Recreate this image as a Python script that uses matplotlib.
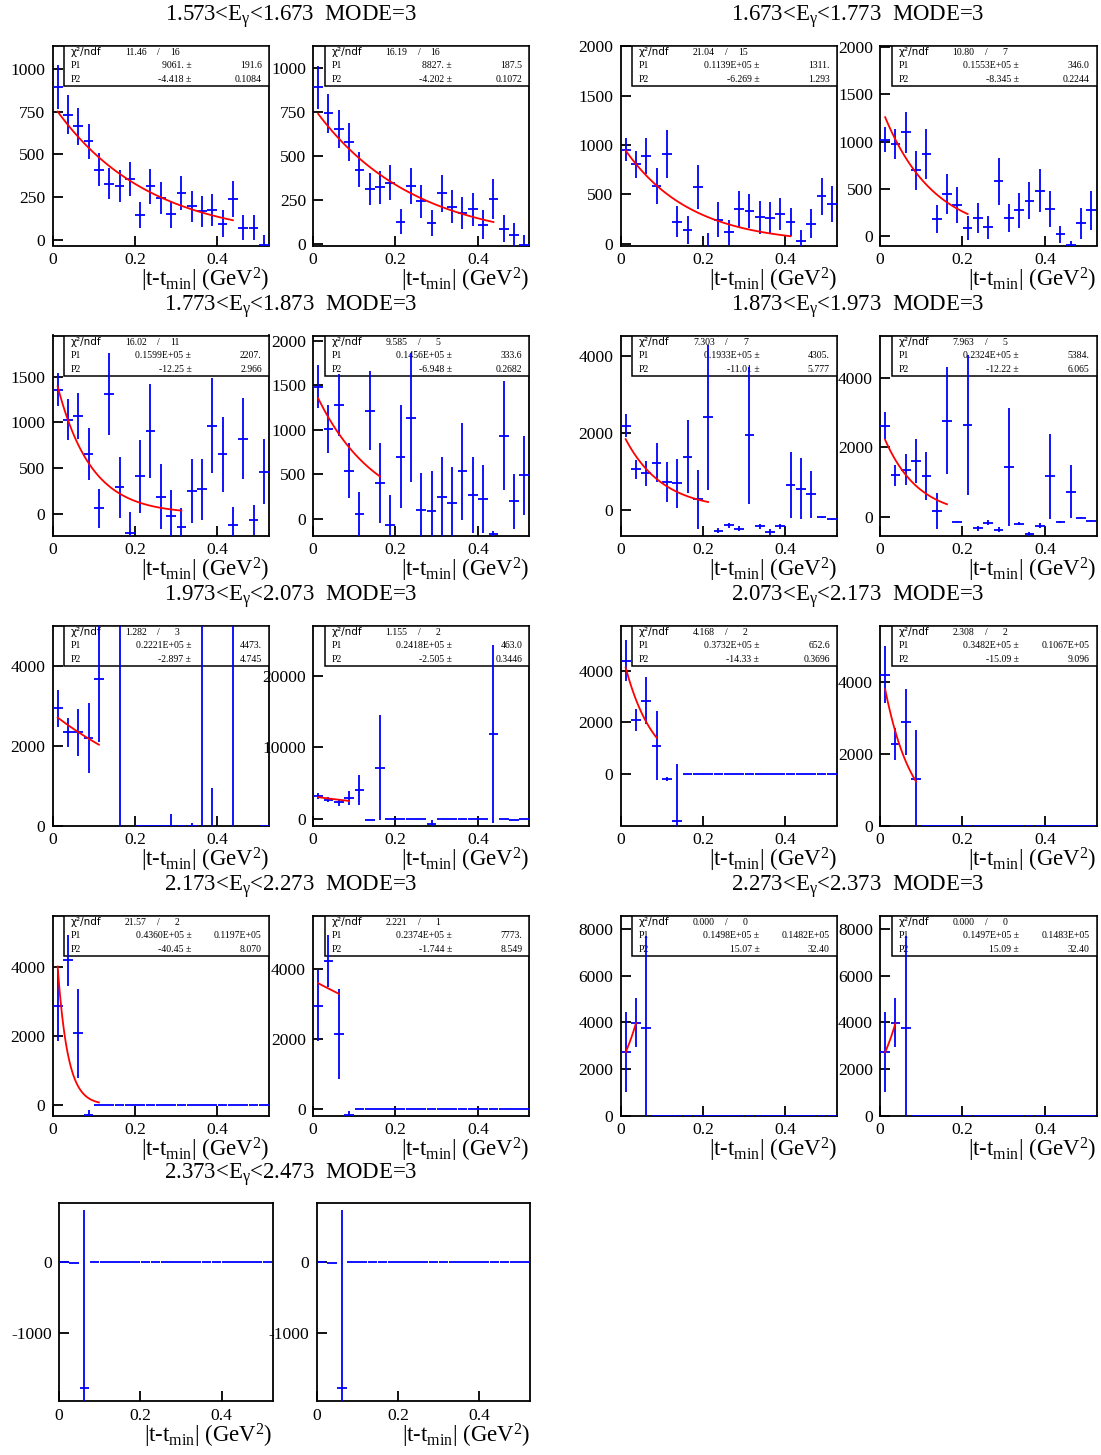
import numpy as np
import matplotlib.pyplot as plt
from matplotlib.patches import Rectangle
from matplotlib.ticker import MultipleLocator

plt.rcParams['font.family'] = ['Liberation Serif', 'DejaVu Serif']
plt.rcParams['mathtext.fontset'] = 'custom'
plt.rcParams['mathtext.rm'] = 'Liberation Serif'
plt.rcParams['mathtext.it'] = 'Liberation Serif:italic'
plt.rcParams['axes.unicode_minus'] = False

nan = np.nan

# 21 bins in |t-tmin| of 0.025 GeV^2
t_edges = np.linspace(0.0, 0.525, 22)
t_mid = 0.5 * (t_edges[:-1] + t_edges[1:])

e_low = ['1.573', '1.673', '1.773', '1.873', '1.973', '2.073', '2.173', '2.273', '2.373']
e_high = ['1.673', '1.773', '1.873', '1.973', '2.073', '2.173', '2.273', '2.373', '2.473']

# yields per bin (a = left pad, b = right pad) and their errors
y_1a = [893, 731, 663, 575, 411, 329, 314, 355, 146, 312, 244, 150, 273, 195, 168, 175, 94, 240, 72, 72, -29]
e_1a = [128, 113, 108, 105, 95, 92, 92, 100, 78, 100, 92, 80, 100, 93, 90, 92, 80, 105, 73, 75, 55]
y_1b = [890, 744, 653, 579, 421, 313, 321, 349, 127, 330, 241, 118, 288, 212, 175, 197, 108, 256, 87, 49, -6]
e_1b = [123, 111, 110, 108, 100, 90, 93, 100, 71, 102, 93, 74, 104, 95, 93, 94, 82, 114, 78, 70, 55]

y_2a = [953, 807, 892, 588, 912, 226, 142, 574, -50, 243, 115, 351, 334, 267, 260, 301, 220, 24, 203, 480, 405]
e_2a = [118, 138, 180, 185, 240, 157, 140, 220, 160, 177, 130, 180, 172, 165, 162, 160, 145, 112, 145, 190, 185]
y_2b = [1018, 972, 1095, 695, 867, 182, 449, 333, 88, 193, 95, 579, 193, 274, 375, 481, 288, 25, -88, 140, 274]
e_2b = [130, 155, 215, 210, 263, 150, 212, 193, 123, 158, 123, 250, 151, 181, 196, 225, 188, 90, 45, 162, 207]

y_3a = [1354, 1027, 1070, 652, 62, 1307, 288, -211, 408, 907, 189, -29, -149, 251, 269, 961, 652, -120, 819, -66, 462]
e_3a = [180, 225, 255, 280, 212, 445, 336, 230, 397, 513, 350, 290, 210, 350, 333, 519, 410, 193, 442, 164, 355]
y_3b = [1485, 1007, 1280, 541, 60, 1213, 403, -63, 701, 1138, 104, 93, 246, 179, 534, 272, 224, -168, 936, 198, 489]
e_3b = [237, 270, 345, 308, 245, 442, 444, 330, 578, 718, 411, 441, 448, 403, 541, 429, 384, 30, 610, 313, 440]

y_4a = [2190, 1056, 952, 1229, 727, 693, 1385, 277, 2407, -545, -407, -493, 1931, -433, -580, -433, 649, 545, 407, -190, -242]
e_4a = [295, 250, 325, 495, 528, 637, 940, 766, 1880, 70, 70, 70, 1770, 70, 70, 70, 850, 790, 610, 15, 15]
y_4b = [2622, 1186, 1349, 1610, 1176, 164, 2776, -145, 2651, -337, -174, -386, 1427, -212, -501, -270, 1157, -164, 723, -29, -125]
e_4b = [395, 313, 448, 640, 685, 520, 1540, 20, 2030, 70, 70, 70, 1700, 40, 60, 70, 1240, 20, 770, 15, 15]

y_5a = [2939, 2330, 2330, 2188, 3682, nan, 8000, nan, 0, 0, 0, 0, 0, 0, 8000, -500, nan, 8000, nan, nan, 0]
e_5a = [460, 370, 580, 885, 1590, nan, 9000, nan, 0, 0, 0, 300, 0, 60, 9000, 1450, nan, 9000, nan, nan, 0]
y_5b = [3209, 2651, 2326, 2884, 4046, -100, 7163, -50, 0, 0, 0, -700, 0, 0, 0, 0, 0, 11813, 0, -140, 0]
e_5b = [465, 370, 510, 1000, 2050, 0, 7300, 0, 0, 0, 0, 500, 0, 0, 0, 0, 0, 12460, 0, 0, 0]

y_6a = [4373, 2090, 2838, 1097, -206, -1806] + [0] * 15
e_6a = [795, 440, 915, 1320, 80, 2190] + [0] * 15
y_6b = [4205, 2270, 2884, 1293] + [0] * 17
e_6b = [800, 450, 920, 1370] + [0] * 17

y_7a = [2872, 4174, 2072, -289] + [0] * 17
e_7a = [1030, 750, 1290, 150] + [0] * 17
y_7b = [2952, 4219, 2143, -171] + [0] * 17
e_7b = [1020, 740, 1286, 100] + [0] * 17

y_8a = [2714, 3972, 3743] + [0] * 18
e_8a = [1715, 1050, 3940] + [0] * 18
y_8b = [2714, 3972, 3743] + [0] * 18
e_8b = [1715, 1050, 3940] + [0] * 18

y_9a = [0, -12, -1765] + [0] * 18
e_9a = [0, 0, 2502] + [0] * 18
y_9b = [0, -12, -1765] + [0] * 18
e_9b = [0, 0, 2502] + [0] * 18

# exponential fits: (t start, t end, value at start, slope P2)
fit_1a = (0.0125, 0.4375, 750, -4.418)
fit_1b = (0.0125, 0.4375, 740, -4.202)
fit_2a = (0.0125, 0.4125, 946, -6.269)
fit_2b = (0.0125, 0.2125, 1256, -8.345)
fit_3a = (0.0125, 0.3125, 1391, -12.25)
fit_3b = (0.0125, 0.1625, 1354, -6.948)
fit_4a = (0.0125, 0.2125, 1835, -11.01)
fit_4b = (0.0125, 0.1625, 2217, -12.22)
fit_5a = (0.0125, 0.1125, 2705, -2.897)
fit_5b = (0.0125, 0.0875, 3023, -2.505)
fit_6a = (0.0125, 0.0875, 4115, -14.33)
fit_6b = (0.0125, 0.0875, 3805, -15.09)
fit_7a = (0.0125, 0.1125, 4000, -40.45)
fit_7b = (0.0125, 0.0625, 3590, -1.744)
fit_8a = (0.0125, 0.0375, 2714, 15.07)
fit_8b = (0.0125, 0.0375, 2714, 15.09)

# stat box: chi2, ndf, P1, P1 err, P2, P2 err
stat_1a = ['11.46', '16', '9061.', '191.6', '-4.418', '0.1084']
stat_1b = ['16.19', '16', '8827.', '187.5', '-4.202', '0.1072']
stat_2a = ['21.04', '15', '0.1139E+05', '1311.', '-6.269', '1.293']
stat_2b = ['10.80', '7', '0.1553E+05', '346.0', '-8.345', '0.2244']
stat_3a = ['16.02', '11', '0.1599E+05', '2207.', '-12.25', '2.966']
stat_3b = ['9.585', '5', '0.1456E+05', '333.6', '-6.948', '0.2682']
stat_4a = ['7.303', '7', '0.1933E+05', '4305.', '-11.01', '5.777']
stat_4b = ['7.963', '5', '0.2324E+05', '5384.', '-12.22', '6.065']
stat_5a = ['1.282', '3', '0.2221E+05', '4473.', '-2.897', '4.745']
stat_5b = ['1.155', '2', '0.2418E+05', '463.0', '-2.505', '0.3446']
stat_6a = ['4.168', '2', '0.3732E+05', '652.6', '-14.33', '0.3696']
stat_6b = ['2.308', '2', '0.3482E+05', '0.1067E+05', '-15.09', '9.096']
stat_7a = ['21.57', '2', '0.4360E+05', '0.1197E+05', '-40.45', '8.070']
stat_7b = ['2.221', '1', '0.2374E+05', '7773.', '-1.744', '8.549']
stat_8a = ['0.000', '0', '0.1498E+05', '0.1482E+05', '15.07', '32.40']
stat_8b = ['0.000', '0', '0.1497E+05', '0.1483E+05', '15.09', '32.40']

panels = [
    (y_1a, e_1a, fit_1a, stat_1a), (y_1b, e_1b, fit_1b, stat_1b),
    (y_2a, e_2a, fit_2a, stat_2a), (y_2b, e_2b, fit_2b, stat_2b),
    (y_3a, e_3a, fit_3a, stat_3a), (y_3b, e_3b, fit_3b, stat_3b),
    (y_4a, e_4a, fit_4a, stat_4a), (y_4b, e_4b, fit_4b, stat_4b),
    (y_5a, e_5a, fit_5a, stat_5a), (y_5b, e_5b, fit_5b, stat_5b),
    (y_6a, e_6a, fit_6a, stat_6a), (y_6b, e_6b, fit_6b, stat_6b),
    (y_7a, e_7a, fit_7a, stat_7a), (y_7b, e_7b, fit_7b, stat_7b),
    (y_8a, e_8a, fit_8a, stat_8a), (y_8b, e_8b, fit_8b, stat_8b),
    (y_9a, e_9a, None, None), (y_9b, e_9b, None, None),
]

# axis ranges and tick steps for each pad
y_ranges = [(-33, 1136), (-9.5, 1129), (-17, 2010), (-95, 2011),
            (-237, 1948), (-183, 2056), (-667, 4528), (-549, 5234),
            (0, 5010), (-930, 26977), (-1990, 5741), (0, 5581),
            (-308, 5475), (-190, 5524), (0, 8574), (0, 8574),
            (-1953, 831), (-1953, 831)]
y_steps = [250, 250, 500, 500, 500, 500, 2000, 2000, 2000, 10000,
           2000, 2000, 2000, 2000, 2000, 2000, 1000, 1000]

W, H = 1101, 1455
fig = plt.figure(figsize=(W / 100, H / 100), dpi=100)

col_left = [52.5, 313, 620.5, 880]
last_left = [59, 316.5]

for i, (yv, ev, fit, stat) in enumerate(panels):
    row, col = divmod(i, 4)
    if row < 4:
        left, top, w, h = col_left[col], 45.5 + 290 * row, 216.5, 200
    else:
        left, top, w, h = last_left[col], 1203.3, 213.5, 197.7
    ax = fig.add_axes([left / W, 1 - (top + h) / H, w / W, h / H])

    ax.errorbar(t_mid, yv, yerr=ev, xerr=0.0118, fmt='none', ecolor='#0000ff',
                elinewidth=1.3, capsize=0, zorder=5)
    if fit is not None:
        t0, t1, a0, slope = fit
        tt = np.linspace(t0, t1, 80)
        ax.plot(tt, a0 * np.exp(slope * (tt - t0)), color='red', lw=1.3, zorder=6)

    ax.set_xlim(0, 0.525)
    ax.set_ylim(*y_ranges[i])
    ax.set_xticks([0, 0.2, 0.4])
    ax.set_xticklabels(['0', '0.2', '0.4'])
    ax.yaxis.set_major_locator(MultipleLocator(y_steps[i]))
    ax.tick_params(direction='in', length=7.5, width=1.3, top=False, right=False,
                   labelsize=12.6, pad=5)
    for sp in ax.spines.values():
        sp.set_linewidth(1.3)

    ax.text(1.0, -0.2075, r'|t-t$_{\mathrm{min}}$| (GeV$^{2}$)', transform=ax.transAxes,
            ha='right', va='baseline', fontsize=16.4)

    if stat is not None:
        ax.add_patch(Rectangle((0.055, 0.798), 0.945, 0.202, transform=ax.transAxes,
                               facecolor='white', edgecolor='black', lw=1.1, zorder=3))
        fs = 7
        ax.text(0.085, 0.967, 'χ²/ndf', transform=ax.transAxes, fontsize=7.5,
                family='DejaVu Sans', va='center', ha='left', zorder=4)
        ax.text(0.435, 0.967, stat[0], transform=ax.transAxes, fontsize=fs,
                va='center', ha='right', zorder=4)
        ax.text(0.49, 0.967, '/', transform=ax.transAxes, fontsize=fs,
                va='center', ha='center', zorder=4)
        ax.text(0.588, 0.967, stat[1], transform=ax.transAxes, fontsize=fs,
                va='center', ha='right', zorder=4)
        for yy, lab, val, err in [(0.90, 'P1', stat[2], stat[3]), (0.832, 'P2', stat[4], stat[5])]:
            ax.text(0.085, yy, lab, transform=ax.transAxes, fontsize=fs,
                    va='center', ha='left', zorder=4)
            ax.text(0.642, yy, val + ' ±', transform=ax.transAxes, fontsize=fs,
                    va='center', ha='right', zorder=4)
            ax.text(0.967, yy, err, transform=ax.transAxes, fontsize=fs,
                    va='center', ha='right', zorder=4)

# energy-bin titles, one per pair of pads
for j in range(9):
    row, grp = divmod(j, 2)
    xc = 291 if grp == 0 else 858
    yc = 17 + 290 * row if row < 4 else 1175
    fig.text(xc / W, 1 - yc / H,
             e_low[j] + r'<E$_{\mathrm{γ}}$<' + e_high[j] + '  MODE=3',
             ha='center', va='center', fontsize=16.4)

fig.savefig('out.png', dpi=100)
